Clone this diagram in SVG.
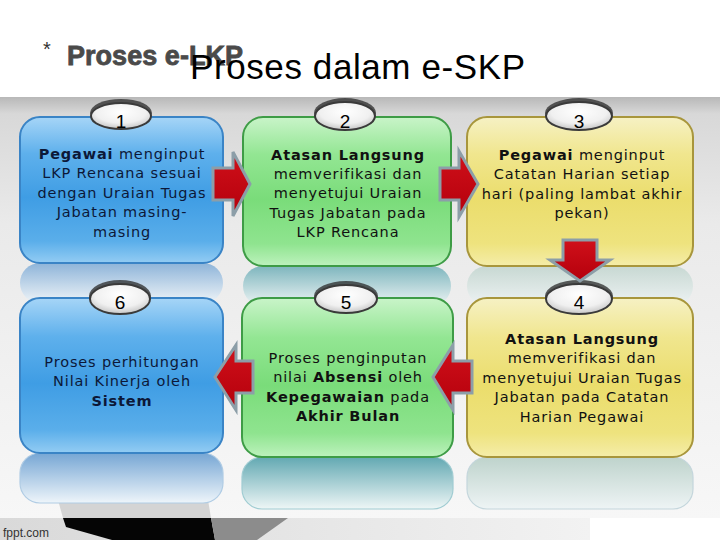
<svg xmlns="http://www.w3.org/2000/svg" width="720" height="540" viewBox="0 0 720 540">
<defs>
<linearGradient id="band" x1="0" y1="0" x2="0" y2="1">
<stop offset="0" stop-color="#b8b8b8"/>
<stop offset="0.04" stop-color="#d8d8d8"/>
<stop offset="0.3" stop-color="#eaeaea"/>
<stop offset="1" stop-color="#f7f7f7"/>
</linearGradient>
<linearGradient id="foot" x1="0" y1="0" x2="1" y2="0">
<stop offset="0" stop-color="#d9d9d9"/>
<stop offset="1" stop-color="#f2f2f2"/>
</linearGradient>
<linearGradient id="gBlue" x1="0" y1="0" x2="0" y2="1">
<stop offset="0" stop-color="#a6d5f7"/>
<stop offset="0.25" stop-color="#5eb0ec"/>
<stop offset="0.55" stop-color="#3f9de4"/>
<stop offset="0.85" stop-color="#5aaeea"/>
<stop offset="1" stop-color="#93ccf3"/>
</linearGradient>
<linearGradient id="gGreen" x1="0" y1="0" x2="0" y2="1">
<stop offset="0" stop-color="#c9f4c9"/>
<stop offset="0.25" stop-color="#93e693"/>
<stop offset="0.55" stop-color="#7adc7a"/>
<stop offset="0.85" stop-color="#8fe48f"/>
<stop offset="1" stop-color="#bdf2bd"/>
</linearGradient>
<linearGradient id="gYellow" x1="0" y1="0" x2="0" y2="1">
<stop offset="0" stop-color="#f6f1c4"/>
<stop offset="0.25" stop-color="#f0e68e"/>
<stop offset="0.55" stop-color="#ebdd6c"/>
<stop offset="0.85" stop-color="#eee37e"/>
<stop offset="1" stop-color="#f5eda9"/>
</linearGradient>
<linearGradient id="rBlue" x1="0" y1="0" x2="0" y2="1">
<stop offset="0" stop-color="#76a6d4"/>
<stop offset="1" stop-color="#eef5fa"/>
</linearGradient>
<linearGradient id="rGreen" x1="0" y1="0" x2="0" y2="1">
<stop offset="0" stop-color="#62a8b2"/>
<stop offset="1" stop-color="#eef6f6"/>
</linearGradient>
<linearGradient id="rYellow" x1="0" y1="0" x2="0" y2="1">
<stop offset="0" stop-color="#bed3cc"/>
<stop offset="1" stop-color="#eef4f5"/>
</linearGradient>
<radialGradient id="gOval" cx="0.5" cy="0.35" r="0.7">
<stop offset="0" stop-color="#ffffff"/>
<stop offset="0.6" stop-color="#f0f0f0"/>
<stop offset="1" stop-color="#bcbcbc"/>
</radialGradient>
<linearGradient id="gRed" x1="0" y1="0" x2="0" y2="1">
<stop offset="0" stop-color="#d0101a"/>
<stop offset="1" stop-color="#b4000c"/>
</linearGradient>
</defs>
<style>
.t{font-family:"DejaVu Sans",Verdana,sans-serif;font-size:14.5px;letter-spacing:0.85px;text-anchor:middle;fill:#111}
.nv{fill:#0c1838}
.b{font-weight:bold}
.num{font-family:"Liberation Sans",Arial,sans-serif;font-size:19px;text-anchor:middle;fill:#000}
.oval{fill:url(#gOval);stroke:#3a3a3a;stroke-width:2}
.ovsh{fill:#2a2a2a;opacity:0.75}
.bb{fill:url(#gBlue);stroke:#3a84c6;stroke-width:2}
.bg{fill:url(#gGreen);stroke:#3e9c46;stroke-width:2}
.by{fill:url(#gYellow);stroke:#a8963c;stroke-width:2}
.arr{fill:url(#gRed);stroke:#8c9ea8;stroke-width:3;stroke-linejoin:miter}
</style>

<rect x="0" y="0" width="720" height="540" fill="#ffffff"/>
<rect x="0" y="97" width="720" height="421" fill="url(#band)"/>
<rect x="0" y="518" width="590" height="22" fill="url(#foot)"/>
<polygon points="58,500 208,500 211,518 63,518" fill="#d4d4d4"/>
<polygon points="63,518 211,518 215,540 112,540 66,527" fill="#050505"/>
<polygon points="211,518 288,518 257,540 215,540" fill="#8c8c8c"/>
<text x="3" y="537" font-family="Liberation Sans,Arial,sans-serif" font-size="12" fill="#333">fppt.com</text>

<g id="title">
<text x="43" y="56" font-family="Liberation Sans,Arial,sans-serif" font-size="20" fill="#333">*</text>
<text x="67" y="65" font-family="Liberation Sans,Arial,sans-serif" font-size="27" font-weight="bold" fill="#4a4a4a" stroke="#4a4a4a" stroke-width="0.8" textLength="176">Proses e-LKP</text>
<text x="190" y="79" font-family="Liberation Sans,Arial,sans-serif" font-size="35" fill="#000" textLength="335">Proses dalam e-SKP</text>
</g>

<g id="node1">
<rect x="20" y="263" width="203" height="40" rx="20" fill="url(#rBlue)" opacity="0.8"/>
<rect x="20" y="117" width="203" height="146" rx="20" class="bb"/>
<ellipse cx="121" cy="113" rx="31" ry="14" class="ovsh"/>
<ellipse cx="121" cy="116" rx="30" ry="13" class="oval"/>
<text x="121" y="128" class="num">1</text>
<text class="t nv"><tspan x="122" y="159"><tspan class="b">Pegawai</tspan> menginput</tspan><tspan x="122" y="178.4">LKP Rencana sesuai</tspan><tspan x="122" y="197.8">dengan Uraian Tugas</tspan><tspan x="122" y="217.2">Jabatan masing-</tspan><tspan x="122" y="236.6">masing</tspan></text>
</g>

<g id="node2">
<rect x="243" y="266" width="208" height="40" rx="20" fill="url(#rGreen)" opacity="0.8"/>
<rect x="243" y="117" width="208" height="149" rx="20" class="bg"/>
<ellipse cx="345" cy="113" rx="31" ry="15" class="ovsh"/>
<ellipse cx="345" cy="116" rx="30" ry="14" class="oval"/>
<text x="345" y="128" class="num">2</text>
<text class="t"><tspan x="348" y="159.5" class="b">Atasan Langsung</tspan><tspan x="348" y="178.9">memverifikasi dan</tspan><tspan x="348" y="198.3">menyetujui Uraian</tspan><tspan x="348" y="217.7">Tugas Jabatan pada</tspan><tspan x="348" y="237.1">LKP Rencana</tspan></text>
</g>

<g id="node3">
<rect x="467" y="266" width="226" height="40" rx="20" fill="url(#rYellow)" opacity="0.8"/>
<rect x="467" y="117" width="226" height="149" rx="20" class="by"/>
<ellipse cx="579" cy="113" rx="34" ry="15" class="ovsh"/>
<ellipse cx="579" cy="116" rx="33" ry="14" class="oval"/>
<text x="579" y="128" class="num">3</text>
<text class="t"><tspan x="582" y="160"><tspan class="b">Pegawai</tspan> menginput</tspan><tspan x="582" y="179.4">Catatan Harian setiap</tspan><tspan x="582" y="198.8">hari (paling lambat akhir</tspan><tspan x="582" y="218.2">pekan)</tspan></text>
</g>

<g id="node6">
<rect x="20" y="453" width="203" height="50" rx="20" fill="url(#rBlue)" stroke="#b0cce4" stroke-width="1.2"/>
<rect x="20" y="298" width="203" height="155" rx="20" class="bb"/>
<ellipse cx="120" cy="296" rx="31" ry="16" class="ovsh"/>
<ellipse cx="120" cy="299" rx="30" ry="15" class="oval"/>
<text x="120" y="309" class="num">6</text>
<text class="t nv"><tspan x="122" y="367">Proses perhitungan</tspan><tspan x="122" y="386.4">Nilai Kinerja oleh</tspan><tspan x="122" y="405.8" class="b">Sistem</tspan></text>
</g>

<g id="node5">
<rect x="242" y="457" width="211" height="52" rx="20" fill="url(#rGreen)" stroke="#a0ccd2" stroke-width="1.2"/>
<rect x="242" y="298" width="211" height="159" rx="20" class="bg"/>
<ellipse cx="346" cy="296" rx="32" ry="15" class="ovsh"/>
<ellipse cx="346" cy="299" rx="31" ry="14" class="oval"/>
<text x="346" y="309" class="num">5</text>
<text class="t"><tspan x="348" y="363">Proses penginputan</tspan><tspan x="348" y="382.4">nilai <tspan class="b">Absensi</tspan> oleh</tspan><tspan x="348" y="401.8"><tspan class="b">Kepegawaian</tspan> pada</tspan><tspan x="348" y="421.2" class="b">Akhir Bulan</tspan></text>
</g>

<g id="node4">
<rect x="467" y="457" width="226" height="52" rx="20" fill="url(#rYellow)" stroke="#c4d6dc" stroke-width="1.2"/>
<rect x="467" y="298" width="226" height="159" rx="20" class="by"/>
<ellipse cx="579" cy="296" rx="34" ry="16" class="ovsh"/>
<ellipse cx="579" cy="299" rx="33" ry="15" class="oval"/>
<text x="579" y="309" class="num">4</text>
<text class="t"><tspan x="582" y="344" class="b">Atasan Langsung</tspan><tspan x="582" y="363.4">memverifikasi dan</tspan><tspan x="582" y="382.8">menyetujui Uraian Tugas</tspan><tspan x="582" y="402.2">Jabatan pada Catatan</tspan><tspan x="582" y="421.6">Harian Pegawai</tspan></text>
</g>

<g id="connectors">
<polygon class="arr" points="213,168 233,168 233,152 250,184 233,216 233,200 213,200"/>
<polygon class="arr" points="440,168 459,168 459,151 478,184 459,217 459,200 440,200"/>
<polygon class="arr" points="563,240 597,240 597,260 610,260 580,281 550,260 563,260"/>
<polygon class="arr" points="472,361 453,361 453,345 433,377 453,410 453,393 472,393"/>
<polygon class="arr" points="253,361 236,361 236,345 215,377 236,410 236,393 253,393"/>
</g>
</svg>
